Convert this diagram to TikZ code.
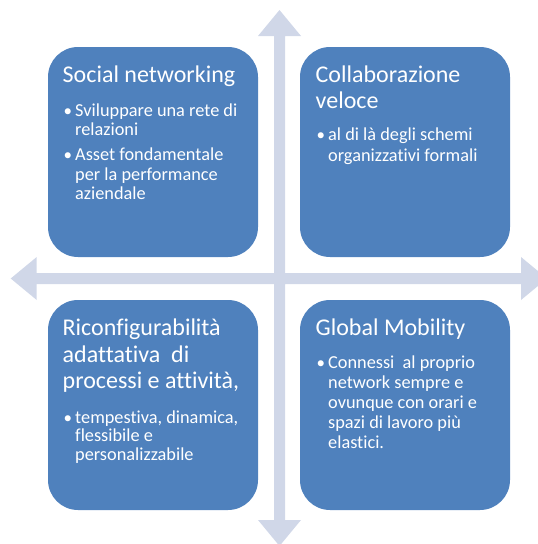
\documentclass[tikz,border=0pt]{standalone}
\usepackage{fontspec}
\setmainfont{Carlito}[Ligatures=NoCommon]
\definecolor{boxblue}{HTML}{4F81BD}
\definecolor{arrowgray}{HTML}{D0D7E8}
\tikzset{
  quad/.style={fill=boxblue, rounded corners=30pt, minimum width=210pt, minimum height=210pt, inner sep=0pt},
  ttl/.style={anchor=base west, inner sep=0pt, text=white, font=\fontsize{24}{26.7}\selectfont},
  txt/.style={anchor=base west, inner sep=0pt, text=white, font=\fontsize{18.3}{20}\selectfont},
  dot/.style={anchor=base west, inner sep=0pt, text=white, font=\fontsize{17}{20}\selectfont},
  crossarrow/.style={fill=arrowgray},
}
\begin{document}
\begin{tikzpicture}[x=1pt,y=-1pt]
\useasboundingbox (0,0) rectangle (538,544);
% cross of arrows
\def\cx{279.5}\def\cy{278.5}
\fill[crossarrow]
  (\cx,10) -- (\cx+21.5,36) -- (\cx+5.5,36) -- (\cx+5.5,\cy-5.5)
  -- (521,\cy-5.5) -- (521,\cy-21.5) -- (547,\cy) -- (521,\cy+21.5) -- (521,\cy+5.5)
  -- (\cx+5.5,\cy+5.5) -- (\cx+5.5,520) -- (\cx+21.5,520) -- (\cx,546) -- (\cx-21.5,520) -- (\cx-5.5,520)
  -- (\cx-5.5,\cy+5.5) -- (36.7,\cy+5.5) -- (36.7,\cy+21.5) -- (10.7,\cy) -- (36.7,\cy-21.5) -- (36.7,\cy-5.5)
  -- (\cx-5.5,\cy-5.5) -- (\cx-5.5,36) -- (\cx-21.5,36) -- cycle;
% boxes
\node[quad] (tl) at (153,152) {};
\node[quad] (tr) at (405,152) {};
\node[quad] (bl) at (153,405) {};
\node[quad] (br) at (405,405) {};
% top left
\node[ttl] (tlt) at (62.5,82) {Social networking};
\node[dot] (tlb1) at (63.5,116) {•};
\node[txt] (tl1) at (75,116) {Sviluppare una rete di};
\node[txt] (tl2) at (75,135.5) {relazioni};
\node[dot] (tlb2) at (63.5,160) {•};
\node[txt] (tl3) at (75,160) {Asset fondamentale};
\node[txt] (tl4) at (75,180) {per la performance};
\node[txt] (tl5) at (75,199.5) {aziendale};
% top right
\node[ttl] (trt1) at (315.5,82) {Collaborazione};
\node[ttl] (trt2) at (315.5,108.5) {veloce};
\node[dot] (trb1) at (316.5,140.7) {•};
\node[txt] (tr1) at (328,140.7) {al di là degli schemi};
\node[txt] (tr2) at (328,161) {organizzativi formali};
% bottom left
\node[ttl] (blt1) at (62.5,335.3) {Riconfigurabilità};
\node[ttl] (blt2) at (62.5,362) {adattativa\ \ di};
\node[ttl] (blt3) at (62.5,388.7) {processi e attività,};
\node[dot] (blb1) at (63.5,423) {•};
\node[txt] (bl1) at (75,423) {tempestiva, dinamica,};
\node[txt] (bl2) at (75,441.5) {flessibile e};
\node[txt] (bl3) at (75,460.5) {personalizzabile};
% bottom right
\node[ttl] (brt) at (315.5,335.3) {Global Mobility};
\node[dot] (brb1) at (316.5,368.3) {•};
\node[txt] (br1) at (328,368.3) {Connessi\ \ al proprio};
\node[txt] (br2) at (328,388.3) {network sempre e};
\node[txt] (br3) at (328,408.3) {ovunque con orari e};
\node[txt] (br4) at (328,428.3) {spazi di lavoro più};
\node[txt] (br5) at (328,448.3) {elastici.};
\end{tikzpicture}
\end{document}
